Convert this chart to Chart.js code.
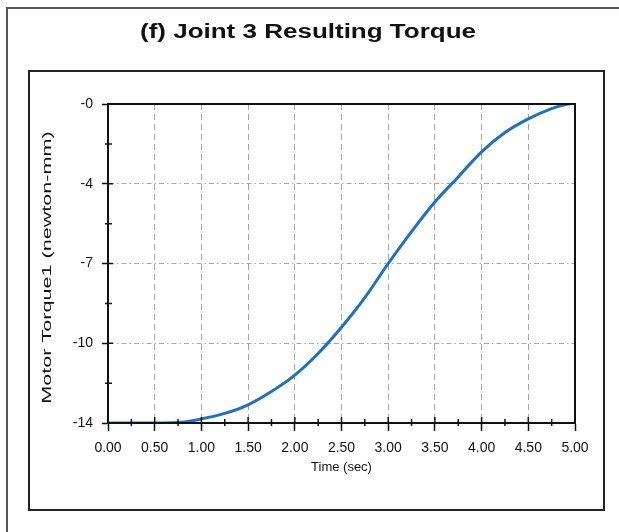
<!DOCTYPE html>
<html>
<head>
<meta charset="utf-8">
<script src="https://cdn.jsdelivr.net/npm/chart.js@4.4.1/dist/chart.umd.min.js"></script>
<style>
  body { margin: 0; background: #fff; overflow: hidden; }
  #wrap { position: relative; width: 619px; height: 532px; }
  #outer { position: absolute; left: 6px; top: 7px; width: 700px; height: 600px; border: 2px solid #555; }
  #inner { position: absolute; left: 28px; top: 70px; width: 573px; height: 437px; border: 2px solid #222; pointer-events: none; }
  canvas { position: absolute; left: 0; top: 0; }
</style>
</head>
<body>
<div id="wrap">
  <div id="outer"></div>
  <canvas id="torqueChart" width="619" height="532"></canvas>
  <div id="inner"></div>
</div>
<script>
// Time samples (sec) and the joint 3 torque
const times = [0, 0.25, 0.5, 0.75, 1.0, 1.25, 1.5, 1.75, 2.0, 2.25, 2.5, 2.75, 3.0, 3.25, 3.5, 3.75, 4.0, 4.25, 4.5, 4.75, 4.9, 4.95];
const torque = [-14, -14, -14, -13.98, -13.82, -13.58, -13.2, -12.62, -11.9, -10.95, -9.8, -8.5, -7.0, -5.6, -4.3, -3.2, -2.1, -1.25, -0.65, -0.2, -0.02, 0];

// y tick positions and the labels printed next to them
const yTickValues = [0, -3.5, -7, -10.5, -14];
const yTickLabels = ['-0', '-4', '-7', '-10', '-14'];

const chartTitle = '(f) Joint 3 Resulting Torque';
const yTitle = 'Motor Torque1 (newton-mm)';

const labelFont = "'Liberation Sans Narrow', 'Arial Narrow', 'Liberation Sans', Arial, sans-serif";

function isMajorX(v) {
    return Math.abs(v * 2 - Math.round(v * 2)) < 1e-6;
}
function yLabelFor(v) {
    for (let i = 0; i < yTickValues.length; i++) {
        if (Math.abs(yTickValues[i] - v) < 1e-6) return yTickLabels[i];
    }
    return null;
}

// frame around the plot, small inner tick marks, and the two stretched titles
const framePlugin = {
    id: 'frame',
    afterDraw(chart) {
        const { ctx, chartArea: a, scales } = chart;
        ctx.save();
        ctx.strokeStyle = '#111';
        ctx.lineWidth = 2;
        ctx.strokeRect(a.left, a.top, a.right - a.left, a.bottom - a.top);

        ctx.lineWidth = 1.5;
        ctx.beginPath();
        scales.x.ticks.forEach(t => {
            const px = scales.x.getPixelForValue(t.value);
            const len = isMajorX(t.value) ? 6 : 4;
            ctx.moveTo(px, a.bottom);
            ctx.lineTo(px, a.bottom - len);
            if (!isMajorX(t.value)) {
                ctx.moveTo(px, a.bottom);
                ctx.lineTo(px, a.bottom + 3);
            }
        });
        scales.y.ticks.forEach(t => {
            const py = scales.y.getPixelForValue(t.value);
            const major = yLabelFor(t.value) !== null;
            ctx.moveTo(a.left, py);
            ctx.lineTo(a.left + (major ? 5 : 4), py);
            if (!major) {
                ctx.moveTo(a.left, py);
                ctx.lineTo(a.left - 3, py);
            }
        });
        ctx.stroke();
        ctx.restore();

        // main title
        ctx.save();
        ctx.translate(308, 32);
        ctx.scale(1.3, 1);
        ctx.font = "bold 20px 'Liberation Sans', Arial, sans-serif";
        ctx.fillStyle = '#111';
        ctx.textAlign = 'center';
        ctx.textBaseline = 'middle';
        ctx.fillText(chartTitle, 0, 0);
        ctx.restore();

        // y axis title, drawn wide like the original figure
        ctx.save();
        ctx.translate(47, (a.top + a.bottom) / 2 + 4);
        ctx.rotate(-Math.PI / 2);
        ctx.scale(1.6, 1);
        ctx.font = "13.5px 'Liberation Sans', Arial, sans-serif";
        ctx.fillStyle = '#111';
        ctx.textAlign = 'center';
        ctx.textBaseline = 'middle';
        ctx.fillText(yTitle, 0, 0);
        ctx.restore();
    }
};

document.addEventListener('DOMContentLoaded', function () {
    const ctx = document.getElementById('torqueChart').getContext('2d');
    const torqueChart = new Chart(ctx, {
        type: 'line',
        data: {
            datasets: [{
                label: 'Joint 3 Torque',
                data: times.map((t, i) => ({ x: t, y: torque[i] })),
                borderColor: '#1f6fc4',
                borderWidth: 3,
                pointRadius: 0,
                cubicInterpolationMode: 'monotone',
                fill: false
            }]
        },
        options: {
            responsive: false,
            animation: false,
            layout: { padding: { left: 0, right: 44, top: 104, bottom: 0 } },
            plugins: {
                legend: { display: false },
                tooltip: { enabled: false },
                title: { display: false }
            },
            scales: {
                x: {
                    type: 'linear',
                    min: 0,
                    max: 5,
                    afterFit: s => { s.height = 109; },
                    ticks: {
                        stepSize: 0.25,
                        autoSkip: false,
                        maxRotation: 0,
                        padding: 9,
                        color: '#111',
                        font: { family: labelFont, size: 14 },
                        callback: v => isMajorX(v) ? v.toFixed(2) : ''
                    },
                    grid: {
                        color: c => (c.tick && isMajorX(c.tick.value) && c.tick.value > 0 && c.tick.value < 5) ? '#a8a8a8' : 'transparent',
                        tickColor: c => (c.tick && isMajorX(c.tick.value)) ? '#111' : 'transparent',
                        tickLength: 8,
                        tickWidth: 1.5,
                        lineWidth: 1
                    },
                    border: { display: true, color: '#111', width: 2, dash: [6, 4] },
                    title: {
                        display: true,
                        text: 'Time (sec)',
                        color: '#111',
                        font: { family: "'Liberation Sans', Arial, sans-serif", size: 13, lineHeight: 1.2 },
                        padding: { top: 0, bottom: 57 }
                    }
                },
                y: {
                    type: 'linear',
                    min: -14,
                    max: 0,
                    afterFit: s => { s.width = 108; },
                    ticks: {
                        stepSize: 1.75,
                        autoSkip: false,
                        padding: 9,
                        color: '#111',
                        font: { family: labelFont, size: 14 },
                        callback: v => { const l = yLabelFor(v); return l === null ? '' : l; }
                    },
                    grid: {
                        color: c => (c.tick && yLabelFor(c.tick.value) !== null && c.tick.value > -14 && c.tick.value < 0) ? '#a8a8a8' : 'transparent',
                        tickColor: c => (c.tick && yLabelFor(c.tick.value) !== null) ? '#111' : 'transparent',
                        tickLength: 6,
                        tickWidth: 1.5,
                        lineWidth: 1
                    },
                    border: { display: true, color: '#111', width: 2, dash: [5, 3, 1.5, 3] },
                    title: { display: false }
                }
            }
        },
        plugins: [framePlugin]
    });
});
</script>
</body>
</html>
